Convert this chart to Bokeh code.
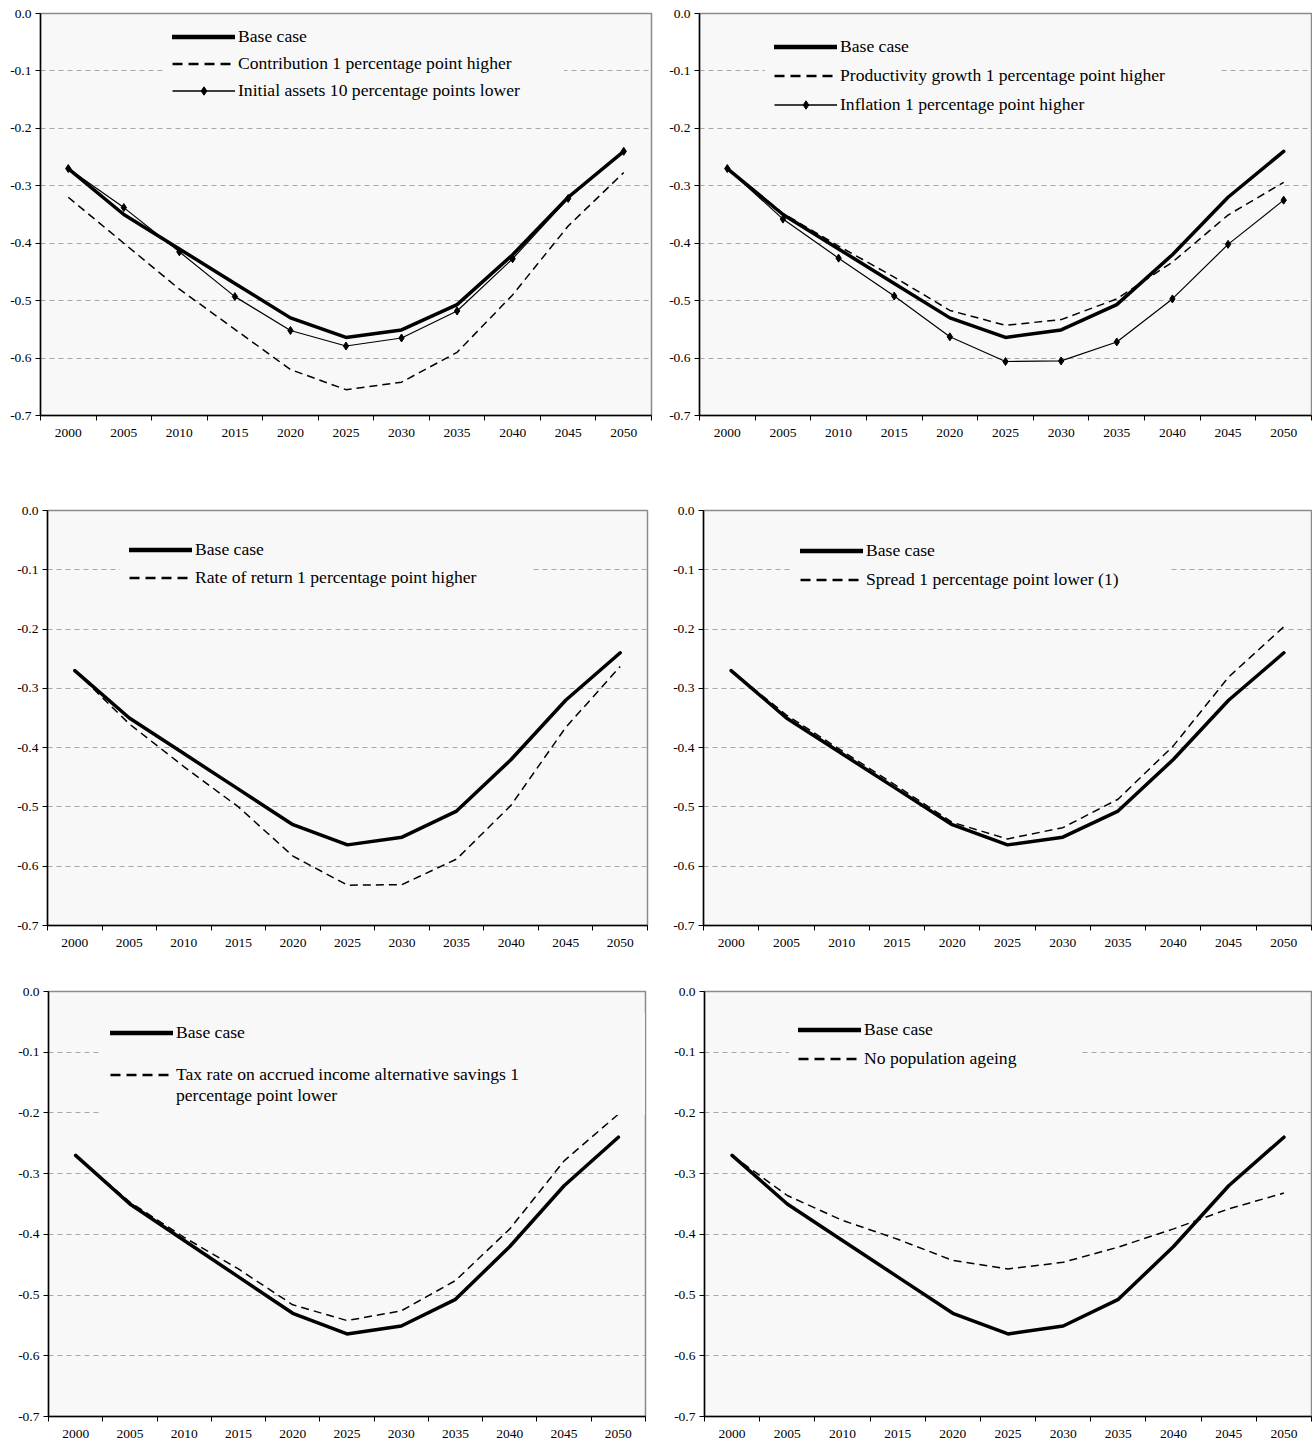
from bokeh.plotting import figure
from bokeh.models import Range1d, FixedTicker, NumeralTickFormatter, Legend, LegendItem
from bokeh.layouts import column, row
from bokeh.embed import file_html
from bokeh.resources import INLINE

# ---------------- data ----------------
years = [2000, 2005, 2010, 2015, 2020, 2025, 2030, 2035, 2040, 2045, 2050]
y_ticks = [0.0, -0.1, -0.2, -0.3, -0.4, -0.5, -0.6, -0.7]

base_case = [-0.27, -0.35, -0.41, -0.47, -0.53, -0.564, -0.551, -0.507, -0.42, -0.32, -0.24]
contribution_higher = [-0.32, -0.40, -0.48, -0.55, -0.62, -0.655, -0.642, -0.59, -0.49, -0.37, -0.277]
initial_assets_lower = [-0.27, -0.338, -0.415, -0.493, -0.552, -0.579, -0.565, -0.518, -0.427, -0.322, -0.24]
productivity_higher = [-0.27, -0.348, -0.405, -0.459, -0.517, -0.543, -0.533, -0.497, -0.433, -0.351, -0.294]
inflation_higher = [-0.27, -0.358, -0.426, -0.492, -0.563, -0.606, -0.605, -0.572, -0.497, -0.402, -0.325]
return_higher = [-0.27, -0.36, -0.432, -0.50, -0.583, -0.632, -0.631, -0.588, -0.497, -0.366, -0.263]
spread_lower = [-0.27, -0.345, -0.405, -0.465, -0.526, -0.554, -0.535, -0.487, -0.397, -0.281, -0.196]
tax_lower = [-0.27, -0.347, -0.405, -0.457, -0.516, -0.542, -0.526, -0.476, -0.391, -0.279, -0.202]
no_ageing = [-0.27, -0.336, -0.377, -0.408, -0.443, -0.457, -0.446, -0.421, -0.391, -0.358, -0.332]

lbl_base = "Base case"
lbl_contribution = "Contribution 1 percentage point higher"
lbl_assets = "Initial assets 10 percentage points lower"
lbl_productivity = "Productivity growth 1 percentage point higher"
lbl_inflation = "Inflation 1 percentage point higher"
lbl_return = "Rate of return 1 percentage point higher"
lbl_spread = "Spread 1 percentage point lower (1)"
lbl_tax_1 = "Tax rate on accrued income alternative savings 1"
lbl_tax_2 = "percentage point lower"
lbl_ageing = "No population ageing"

# ---------------- style ----------------
FONT = "Liberation Serif"
BG = "#f8f8f8"
half = (years[1] - years[0]) / 2.0
x_bounds = [y - half for y in years] + [years[-1] + half]


def make_panel(width, height, bl, br, bt, bb):
    p = figure(width=width, height=height, output_backend="svg", toolbar_location=None,
               x_range=Range1d(years[0] - half, years[-1] + half),
               y_range=Range1d(y_ticks[-1], y_ticks[0]),
               min_border_left=bl, min_border_right=br, min_border_top=bt, min_border_bottom=bb)
    p.background_fill_color = BG
    p.border_fill_color = "white"
    p.outline_line_color = "#8a8a8a"
    p.outline_line_width = 1.5

    xa = p.xaxis[0]
    xa.ticker = FixedTicker(ticks=years, minor_ticks=x_bounds)
    xa.major_tick_out = 0
    xa.major_tick_in = 0
    xa.minor_tick_out = 5
    xa.minor_tick_in = 0
    xa.minor_tick_line_color = "black"
    xa.axis_line_color = "black"
    xa.axis_line_width = 1.5
    xa.major_label_text_font = FONT
    xa.major_label_text_font_size = "13.5px"
    xa.major_label_text_color = "black"
    xa.major_label_standoff = 8

    ya = p.yaxis[0]
    ya.ticker = FixedTicker(ticks=y_ticks)
    ya.formatter = NumeralTickFormatter(format="0.0")
    ya.major_tick_out = 5
    ya.major_tick_in = 0
    ya.minor_tick_out = 0
    ya.minor_tick_in = 0
    ya.major_tick_line_color = "black"
    ya.axis_line_color = "black"
    ya.axis_line_width = 1.5
    ya.major_label_text_font = FONT
    ya.major_label_text_font_size = "13.5px"
    ya.major_label_text_color = "black"
    ya.major_label_standoff = 4

    p.xgrid.visible = False
    p.ygrid.ticker = FixedTicker(ticks=y_ticks[1:-1])
    p.ygrid.grid_line_color = "#a8a8a8"
    p.ygrid.grid_line_dash = "5 4"
    p.ygrid.grid_line_width = 1
    return p


def draw_base(p):
    p.line(years, base_case, line_color="black", line_width=3.5, line_join="round", line_cap="round")


def draw_dashed(p, vals):
    p.line(years, vals, line_color="black", line_width=1.5, line_dash="8 5")


def draw_markers(p, vals):
    p.line(years, vals, line_color="black", line_width=1.2)
    p.scatter(years, vals, marker="diamond", size=8, color="black")


# hidden twins used only to draw the legend samples (bolder, as in the original)
def leg_base(p):
    return [p.line(years, base_case, line_color="black", line_width=4.5, line_cap="round", visible=False)]


def leg_dashed(p, vals):
    return [p.line(years, vals, line_color="black", line_width=2.6, line_dash="10 6", visible=False)]


def leg_markers(p, vals):
    return [p.line(years, vals, line_color="black", line_width=1.6, visible=False),
            p.scatter(years, vals, marker="diamond", size=9, color="black", visible=False)]


def leg_blank(p):
    return [p.line(years, base_case, line_alpha=0, visible=False)]


def add_legend(p, entries, glyph_x, first_center, gap, frame_h, label_w):
    n = len(entries)
    pad = 9
    lh = min(21, gap)
    spacing = gap - lh
    h = 2 * pad + n * lh + (n - 1) * spacing
    top = first_center - lh / 2 - pad
    leg = Legend(items=[LegendItem(label=l, renderers=r) for l, r in entries],
                 location=(glyph_x - pad, frame_h - top - h),
                 padding=pad, spacing=spacing, margin=0,
                 label_height=lh, glyph_height=lh, glyph_width=63, label_standoff=3,
                 label_width=label_w,
                 label_text_font=FONT, label_text_font_size="17.6px", label_text_color="black",
                 background_fill_color=BG, background_fill_alpha=1.0,
                 border_line_alpha=0, click_policy="none")
    p.add_layout(leg, "center")


# ---------------- panel 1 ----------------
p1 = make_panel(663, 490, 40, 12, 13, 75)
draw_base(p1)
draw_dashed(p1, contribution_higher)
draw_markers(p1, initial_assets_lower)
add_legend(p1, [(lbl_base, leg_base(p1)),
                (lbl_contribution, leg_dashed(p1, contribution_higher)),
                (lbl_assets, leg_markers(p1, initial_assets_lower))], 132, 23, 27, 402, 317)

# ---------------- panel 2 ----------------
p2 = make_panel(649, 490, 36, 1, 13, 75)
draw_base(p2)
draw_dashed(p2, productivity_higher)
draw_markers(p2, inflation_higher)
add_legend(p2, [(lbl_base, leg_base(p2)),
                (lbl_productivity, leg_dashed(p2, productivity_higher)),
                (lbl_inflation, leg_markers(p2, inflation_higher))], 75, 33, 29, 402, 371)

# ---------------- panel 3 ----------------
p3 = make_panel(663, 485, 47, 16, 20, 50)
draw_base(p3)
draw_dashed(p3, return_higher)
add_legend(p3, [(lbl_base, leg_base(p3)),
                (lbl_return, leg_dashed(p3, return_higher))], 82, 39, 28, 415, 329)

# ---------------- panel 4 ----------------
p4 = make_panel(649, 485, 40, 1, 20, 50)
draw_base(p4)
draw_dashed(p4, spread_lower)
add_legend(p4, [(lbl_base, leg_base(p4)),
                (lbl_spread, leg_dashed(p4, spread_lower))], 97, 40, 29, 415, 296)

# ---------------- panel 5 ----------------
p5 = make_panel(663, 470, 48, 18, 16, 29)
draw_base(p5)
draw_dashed(p5, tax_lower)
add_legend(p5, [(lbl_base, leg_base(p5)),
                ("", leg_blank(p5)),
                (lbl_tax_1, leg_dashed(p5, tax_lower)),
                (lbl_tax_2, leg_blank(p5))], 62, 41, 21, 425, 470)

# ---------------- panel 6 ----------------
p6 = make_panel(649, 470, 41, 1, 16, 29)
draw_base(p6)
draw_dashed(p6, no_ageing)
add_legend(p6, [(lbl_base, leg_base(p6)),
                (lbl_ageing, leg_dashed(p6, no_ageing))], 94, 38, 29, 425, 206)

layout = column(row(p1, p2), row(p3, p4), row(p5, p6))
open("out.html", "w").write(file_html(layout, INLINE))
